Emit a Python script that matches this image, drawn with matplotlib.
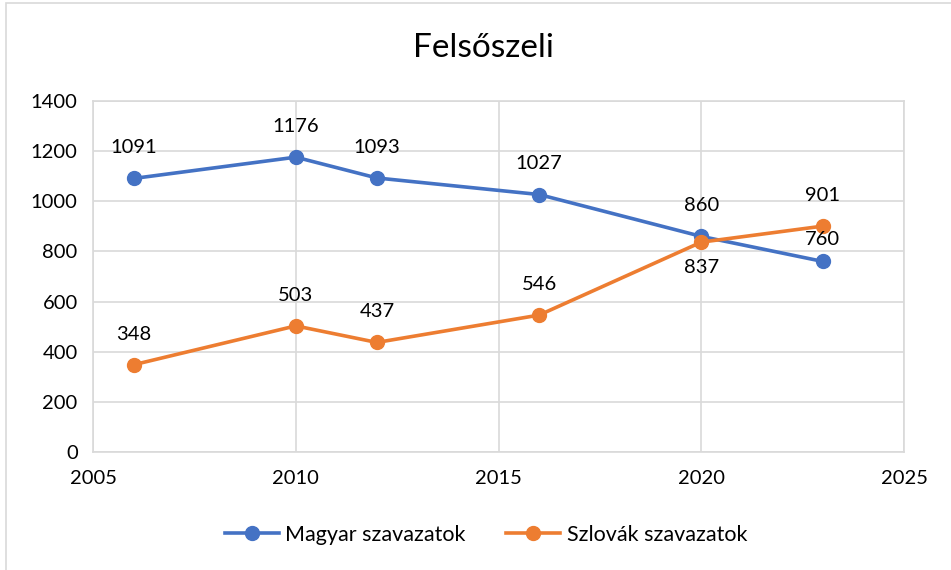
import matplotlib
matplotlib.use("Agg")
import matplotlib.pyplot as plt
from matplotlib.patches import Rectangle

years = [2006, 2010, 2012, 2016, 2020, 2023]
magyar = [1091, 1176, 1093, 1027, 860, 760]
szlovak = [348, 503, 437, 546, 837, 901]
series_names = ["Magyar szavazatok", "Szlovák szavazatok"]
title = "Felsőszeli"
xticks = [2005, 2010, 2015, 2020, 2025]
yticks = [0, 200, 400, 600, 800, 1000, 1200, 1400]

plt.rcParams['font.family'] = ['Lato', 'DejaVu Sans']

W, H = 951, 570
fig = plt.figure(figsize=(W/100, H/100), dpi=100)
fig.patches.append(Rectangle((6/W, -0.1), 1.2, (H-3)/H + 0.1, transform=fig.transFigure,
                             fill=False, edgecolor='#D9D9D9', lw=1.2))

ax = fig.add_axes([93/W, 1-452/H, (904-93)/W, (452-101)/H])
blue = '#4472C4'
orange = '#ED7D31'
ax.plot(years, magyar, color=blue, lw=2.6, marker='o', ms=10, label=series_names[0], zorder=3)
ax.plot(years, szlovak, color=orange, lw=2.6, marker='o', ms=10, label=series_names[1], zorder=3)

ax.set_xlim(2005, 2025)
ax.set_ylim(0, 1400)
ax.set_xticks(xticks)
ax.set_yticks(yticks)
ax.grid(True, color='#D9D9D9', lw=1.2)
ax.set_axisbelow(True)
for s in ax.spines.values():
    s.set_color('#D9D9D9')
    s.set_linewidth(1.2)
fs = 14.5
ax.tick_params(length=0, labelsize=fs, colors='black')
ax.tick_params(axis='x', pad=13)
ax.tick_params(axis='y', pad=11)

for x, y in zip(years, magyar):
    off = 10 if x == 2023 else 16
    ax.annotate(str(y), (x, y), xytext=(0, off), textcoords='offset points',
                ha='center', va='bottom', fontsize=fs)
for x, y in zip(years, szlovak):
    if x == 2020:
        ax.annotate(str(y), (x, y), xytext=(0, -12), textcoords='offset points',
                    ha='center', va='top', fontsize=fs)
    else:
        ax.annotate(str(y), (x, y), xytext=(0, 16), textcoords='offset points',
                    ha='center', va='bottom', fontsize=fs)

fig.text(0.508, 1-48/H, title, ha='center', va='center', fontsize=24)

fig.legend(loc='center', bbox_to_anchor=(0.511, 1-535/H), ncol=2, frameon=False,
           fontsize=15.5, handlelength=2.5, handletextpad=0.3, columnspacing=1.9)

fig.savefig('out.png', dpi=100)
